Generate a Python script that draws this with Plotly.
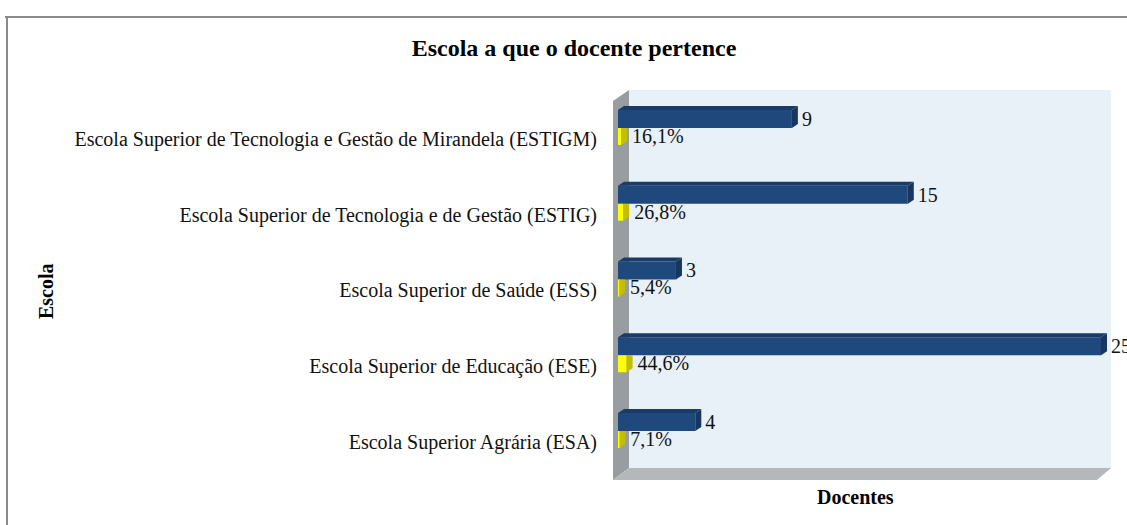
import plotly.graph_objects as go

W, H = 1127, 525
categories = ["Escola Superior Agrária (ESA)", "Escola Superior de Educação (ESE)",
              "Escola Superior de Saúde (ESS)", "Escola Superior de Tecnologia e de Gestão (ESTIG)",
              "Escola Superior de Tecnologia e Gestão de Mirandela (ESTIGM)"]
docentes = [4, 25, 3, 15, 9]
percent = [7.1, 44.6, 5.4, 26.8, 16.1]
pct_labels = ["7,1%", "44,6%", "5,4%", "26,8%", "16,1%"]

L, R, T, B = 613, 1111, 90, 480     # plot box in px
PX_X = 19.32                        # px per x unit
PX_Y = 75.75                        # px per category
X0 = 618
Y0 = 431
DX = 6 / PX_X
DY = 4 / PX_Y
BW = 18 / PX_Y
YW = 17 / PX_Y
ys = list(range(len(categories)))
frac = [p / 100 for p in percent]


def px(x):
    return (x - L) / (R - L)


def py(y):
    return (B - y) / (B - T)


def poly(pts):
    d = "M" + " L".join(f"{px(x):.5f},{py(y):.5f}" for x, y in pts) + " Z"
    return d


shapes = [
    dict(type="path", xref="paper", yref="paper", layer="below", line_width=0, fillcolor="#E8F1F8",
         path=poly([(629, 90), (1111, 90), (1111, 468), (629, 468)])),
    dict(type="path", xref="paper", yref="paper", layer="below", line_width=0, fillcolor="#989DA1",
         path=poly([(613, 101), (629, 90), (629, 468), (613, 480)])),
    dict(type="path", xref="paper", yref="paper", layer="below", line_width=0, fillcolor="#B4B8BB",
         path=poly([(613, 480), (629, 468), (1111, 468), (1097, 480)])),
    dict(type="line", xref="paper", yref="paper", layer="below", line=dict(color="#8A8A8A", width=2),
         x0=px(5), x1=px(1127), y0=py(17), y1=py(17)),
    dict(type="line", xref="paper", yref="paper", layer="below", line=dict(color="#8A8A8A", width=2),
         x0=px(7), x1=px(7), y0=py(16), y1=py(525)),
]

fig = go.Figure()


def face(xs, yy, color):
    fig.add_trace(go.Scatter(x=xs, y=yy, mode="lines", fill="toself", fillcolor=color,
                             line=dict(width=0), hoverinfo="skip", showlegend=False))


# front faces
fig.add_trace(go.Bar(y=ys, x=docentes, orientation="h", width=BW, offset=0,
                     marker=dict(color="#1F497D", line=dict(width=0)), showlegend=False))
fig.add_trace(go.Bar(y=ys, x=frac, orientation="h", width=YW, offset=-YW,
                     marker=dict(color="#FFFF00", line=dict(width=0)), showlegend=False))
# depth faces
for i, v in zip(ys, docentes):
    face([0, DX, v + DX, v, 0], [i + BW, i + BW + DY, i + BW + DY, i + BW, i + BW], "#1A3B66")
    face([v, v + DX, v + DX, v, v], [i, i + DY, i + BW + DY, i + BW, i], "#17375E")
for i, v in zip(ys, frac):
    face([v, v + DX, v + DX, v, v], [i - YW, i - YW + DY, i, i, i - YW], "#C4BD00")

serif = "Liberation Serif"
fig.add_trace(go.Scatter(x=[v + DX + 4 / PX_X for v in docentes], y=[i + BW / 2 - 0.025 for i in ys],
                         mode="text", text=[str(v) for v in docentes], textposition="middle right",
                         textfont=dict(family=serif, size=20, color="#111"), cliponaxis=False,
                         showlegend=False, hoverinfo="skip"))
fig.add_trace(go.Scatter(x=[v + DX + 5 / PX_X for v in frac], y=[i - 0.13 for i in ys],
                         mode="text", text=pct_labels, textposition="middle right",
                         textfont=dict(family=serif, size=20, color="#111"), cliponaxis=False,
                         showlegend=False, hoverinfo="skip"))

fig.update_layout(
    width=W, height=H, autosize=False, paper_bgcolor="white", plot_bgcolor="rgba(0,0,0,0)",
    margin=dict(l=L, r=W - R, t=T, b=H - B, pad=0), barmode="overlay", showlegend=False, shapes=shapes,
    font=dict(family=serif, color="#111"),
    title=dict(text="<b>Escola a que o docente pertence</b>", x=574 / W, y=1 - 48 / H, xanchor="center",
               yanchor="middle", font=dict(family=serif, size=24, color="black")),
    xaxis=dict(range=[(L - X0) / PX_X, (R - X0) / PX_X], showgrid=False, zeroline=False,
               showticklabels=False, ticks="", showline=False, fixedrange=True),
    yaxis=dict(range=[(Y0 - B) / PX_Y, (Y0 - T) / PX_Y], showgrid=False, zeroline=False, showline=False,
               tickmode="array", tickvals=[i - 0.145 for i in ys], ticktext=categories,
               ticks="outside", ticklen=11, tickcolor="rgba(0,0,0,0)",
               tickfont=dict(family=serif, size=20, color="#111"), fixedrange=True),
    annotations=[
        dict(text="<b>Docentes</b>", xref="paper", yref="paper", x=px(855), y=py(497), showarrow=False,
             xanchor="center", yanchor="middle", font=dict(family=serif, size=20, color="black")),
        dict(text="<b>Escola</b>", xref="paper", yref="paper", x=px(46), y=py(291), textangle=-90,
             showarrow=False, xanchor="center", yanchor="middle",
             font=dict(family=serif, size=20, color="black")),
    ],
)
fig.write_html("out.html", config={"displayModeBar": False},
               post_script="document.body.style.margin='0';document.body.style.overflow='hidden';")
